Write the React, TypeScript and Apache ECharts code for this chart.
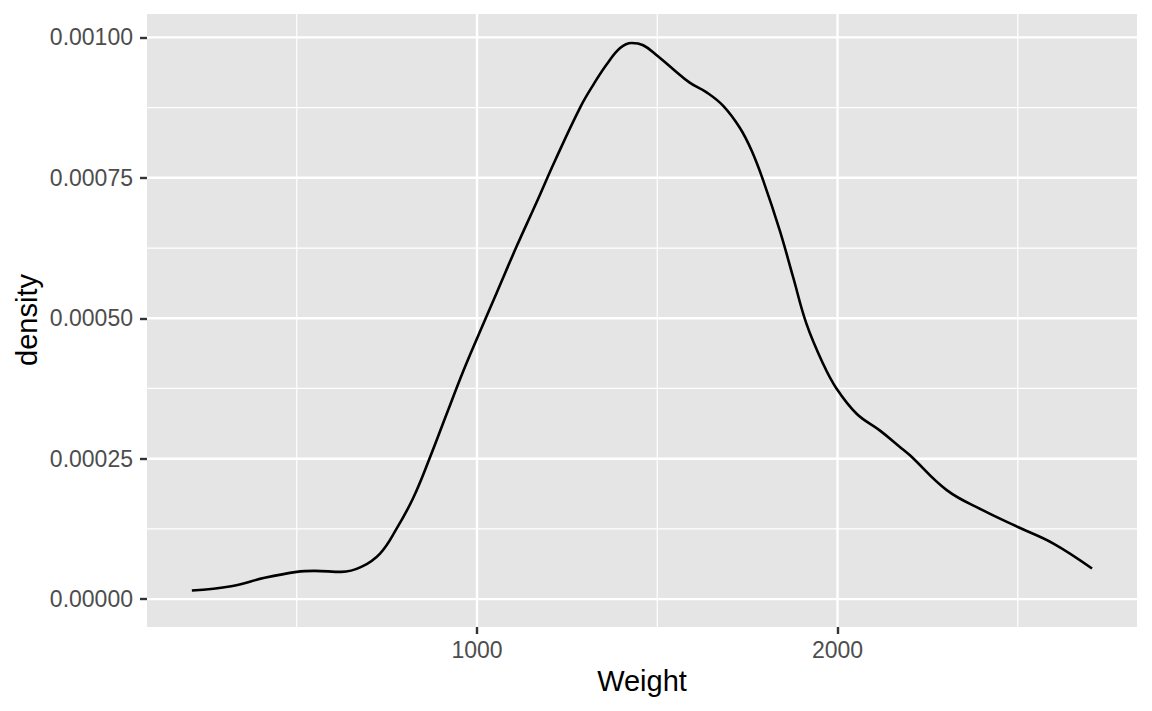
import React, { useEffect, useRef } from "react";
import * as echarts from "echarts";

// Density curve (Weight, density)
const weights = [
  209, 318, 411, 500, 550, 624, 679, 731, 777, 823, 870, 916, 962, 1000, 1055,
  1110, 1165, 1216, 1286, 1323, 1360, 1397, 1429, 1461, 1501, 1545, 1591, 1637,
  1683, 1729, 1762, 1794, 1840, 1877, 1914, 1960, 1997, 2053, 2118, 2173, 2201,
  2303, 2404, 2502, 2599, 2706,
];
const densities = [
  0.0000155, 0.0000231, 0.0000379, 0.0000485, 0.0000503, 0.0000485, 0.0000574,
  0.0000812, 0.0001256, 0.00018, 0.000253, 0.00033, 0.000406, 0.000464,
  0.000546, 0.000628, 0.000706, 0.00078, 0.000875, 0.000916, 0.000952,
  0.000981, 0.00099, 0.000986, 0.000967, 0.000943, 0.000919, 0.000902,
  0.000878, 0.000839, 0.000798, 0.000745, 0.000656, 0.000573, 0.00049,
  0.000419, 0.000375, 0.00033, 0.0003, 0.000271, 0.000256, 0.000194, 0.000158,
  0.000128, 0.000099, 0.0000546,
];

const xTicks = [1000, 2000];
const xMinor = [500, 1500, 2500];
const yTicks = [0, 0.00025, 0.0005, 0.00075, 0.001];
const yMinor = [0.000125, 0.000375, 0.000625, 0.000875];

const xRange = [84.6, 2830.8];
const yRange = [-0.0000496, 0.0010416];

const xTitle = "Weight";
const yTitle = "density";

const FONT = "'Liberation Sans', Arial, Helvetica, sans-serif";

export default function App() {
  const ref = useRef<HTMLDivElement>(null);

  useEffect(() => {
    if (!ref.current) return;
    const chart = echarts.init(ref.current, null, { renderer: "svg" });

    const gridSeries = (vals: number[], horizontal: boolean, width: number, z: number) =>
      vals.map((v) => ({
        type: "line",
        z,
        silent: true,
        showSymbol: false,
        symbol: "none",
        data: horizontal
          ? [[xRange[0], v], [xRange[1], v]]
          : [[v, yRange[0]], [v, yRange[1]]],
        lineStyle: { color: "#FFFFFF", width },
        emphasis: { disabled: true },
      }));

    chart.setOption({
      animation: false,
      backgroundColor: "#FFFFFF",
      grid: {
        left: 147,
        right: 15,
        top: 14,
        bottom: 84,
        show: true,
        backgroundColor: "#E5E5E5",
        borderWidth: 0,
        containLabel: false,
      },
      xAxis: {
        type: "value",
        min: xRange[0],
        max: xRange[1],
        axisLine: { show: false, onZero: false },
        splitLine: { show: false },
        axisTick: {
          show: true,
          customValues: xTicks,
          length: 7,
          lineStyle: { color: "#333333", width: 2.4 },
        },
        axisLabel: {
          customValues: xTicks,
          margin: 11,
          color: "#4D4D4D",
          fontSize: 23,
          fontFamily: FONT,
          formatter: (v: number) => String(Math.round(v)),
        },
      },
      yAxis: {
        type: "value",
        min: yRange[0],
        max: yRange[1],
        axisLine: { show: false, onZero: false },
        splitLine: { show: false },
        axisTick: {
          show: true,
          customValues: yTicks,
          length: 7,
          lineStyle: { color: "#333333", width: 2.4 },
        },
        axisLabel: {
          customValues: yTicks,
          margin: 14,
          color: "#4D4D4D",
          fontSize: 23,
          fontFamily: FONT,
          formatter: (v: number) => v.toFixed(5),
        },
      },
      series: [
        ...gridSeries(yMinor, true, 1.2, 1),
        ...gridSeries(xMinor, false, 1.2, 1),
        ...gridSeries(yTicks, true, 2.4, 2),
        ...gridSeries(xTicks, false, 2.4, 2),
        {
          type: "line",
          z: 5,
          data: weights.map((w, i) => [w, densities[i]]),
          showSymbol: false,
          symbol: "none",
          smooth: 0.4,
          lineStyle: { color: "#000000", width: 2.6 },
          silent: true,
        },
      ],
      graphic: [
        {
          type: "text",
          x: 642,
          y: 681,
          style: {
            text: xTitle,
            fill: "#000000",
            fontSize: 29,
            fontFamily: FONT,
            textAlign: "center",
            textVerticalAlign: "middle",
          },
        },
        {
          type: "text",
          x: 27,
          y: 320,
          rotation: Math.PI / 2,
          style: {
            text: yTitle,
            fill: "#000000",
            fontSize: 29,
            fontFamily: FONT,
            textAlign: "center",
            textVerticalAlign: "middle",
          },
        },
      ],
    });
    return () => chart.dispose();
  }, []);

  return (
    <div
      ref={ref}
      style={{ position: "fixed", left: 0, top: 0, width: 1152, height: 711, background: "#FFFFFF" }}
    />
  );
}
